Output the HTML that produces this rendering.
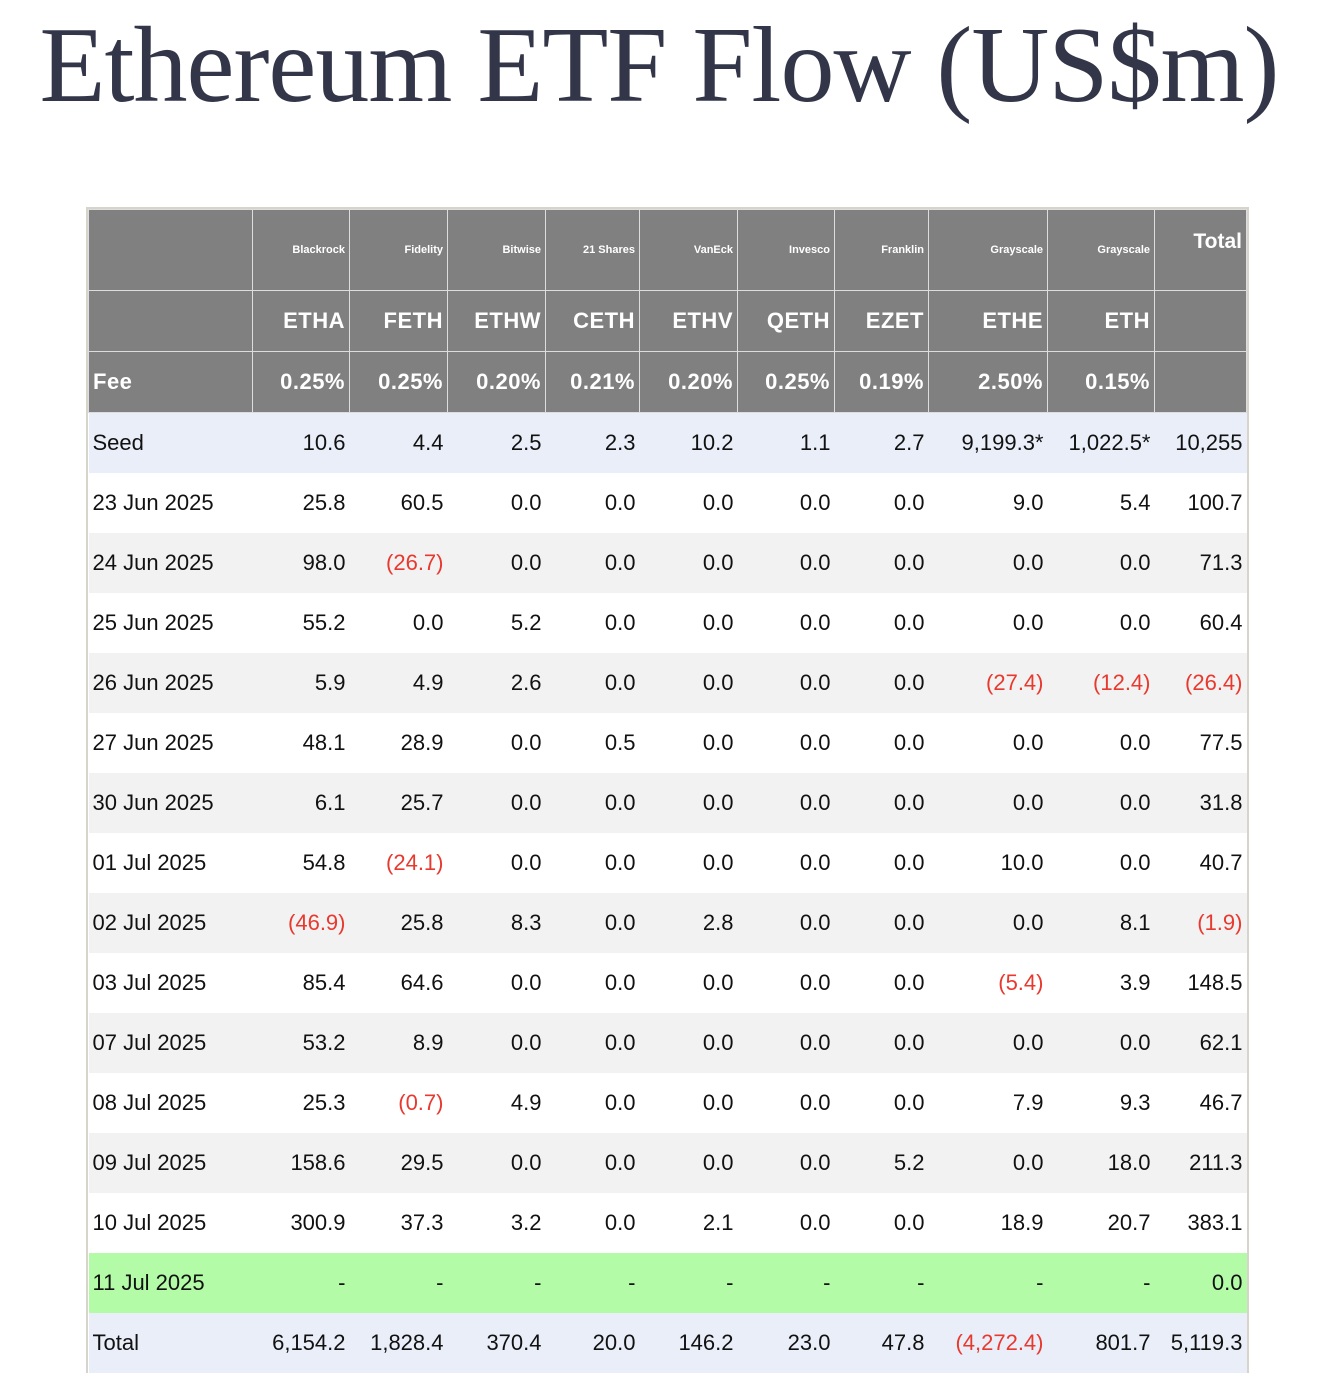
<!DOCTYPE html>
<html><head><meta charset="utf-8">
<style>
body{margin:0;width:1318px;height:1360px;overflow:hidden;background:#fff;font-family:"Liberation Sans",sans-serif;}
h1{position:absolute;left:0;top:6px;width:1318px;margin:0;text-align:center;font-family:"Liberation Serif",serif;font-weight:normal;font-size:108px;color:#333649;letter-spacing:-1px;line-height:120px;}
.wrap{position:absolute;left:86px;top:207px;border:2px solid #d7d4cc;border-bottom:none;}
table{border-collapse:collapse;table-layout:fixed;width:1158px;}
td{height:60px;padding:0 4px 0 4px;text-align:right;font-size:22px;color:#111;white-space:nowrap;overflow:hidden;}
td:first-child{text-align:left;}
tr.h td{background:#808080;color:#fff;font-weight:bold;border:1px solid #ddd;height:60px;}
tr.h1 td{font-size:11px;}
tr.h1 td.tot{font-size:21px;vertical-align:top;padding-top:20px;}
tr.h2 td,tr.h3 td{font-size:22px;letter-spacing:0.5px;}
tr.s td{background:#e9eef9;}
tr.g td{background:#f2f2f2;}
tr.n td{background:#b3fba6;}
.r{color:#e8392f !important;}
</style></head><body>
<h1>Ethereum ETF Flow (US$m)</h1>
<div class="wrap">
<table>
<colgroup><col style="width:164px"><col style="width:97px"><col style="width:98px"><col style="width:98px"><col style="width:94px"><col style="width:98px"><col style="width:97px"><col style="width:94px"><col style="width:119px"><col style="width:107px"><col style="width:92px"></colgroup>
<tbody id="tb"></tbody>
</table></div>
<script>
const issuers=["Blackrock","Fidelity","Bitwise","21 Shares","VanEck","Invesco","Franklin","Grayscale","Grayscale"];
const tickers=["ETHA","FETH","ETHW","CETH","ETHV","QETH","EZET","ETHE","ETH"];
const fees=["0.25%","0.25%","0.20%","0.21%","0.20%","0.25%","0.19%","2.50%","0.15%"];
const rows=[
["Seed","10.6","4.4","2.5","2.3","10.2","1.1","2.7","9,199.3*","1,022.5*","10,255"],
["23 Jun 2025","25.8","60.5","0.0","0.0","0.0","0.0","0.0","9.0","5.4","100.7"],
["24 Jun 2025","98.0","(26.7)","0.0","0.0","0.0","0.0","0.0","0.0","0.0","71.3"],
["25 Jun 2025","55.2","0.0","5.2","0.0","0.0","0.0","0.0","0.0","0.0","60.4"],
["26 Jun 2025","5.9","4.9","2.6","0.0","0.0","0.0","0.0","(27.4)","(12.4)","(26.4)"],
["27 Jun 2025","48.1","28.9","0.0","0.5","0.0","0.0","0.0","0.0","0.0","77.5"],
["30 Jun 2025","6.1","25.7","0.0","0.0","0.0","0.0","0.0","0.0","0.0","31.8"],
["01 Jul 2025","54.8","(24.1)","0.0","0.0","0.0","0.0","0.0","10.0","0.0","40.7"],
["02 Jul 2025","(46.9)","25.8","8.3","0.0","2.8","0.0","0.0","0.0","8.1","(1.9)"],
["03 Jul 2025","85.4","64.6","0.0","0.0","0.0","0.0","0.0","(5.4)","3.9","148.5"],
["07 Jul 2025","53.2","8.9","0.0","0.0","0.0","0.0","0.0","0.0","0.0","62.1"],
["08 Jul 2025","25.3","(0.7)","4.9","0.0","0.0","0.0","0.0","7.9","9.3","46.7"],
["09 Jul 2025","158.6","29.5","0.0","0.0","0.0","0.0","5.2","0.0","18.0","211.3"],
["10 Jul 2025","300.9","37.3","3.2","0.0","2.1","0.0","0.0","18.9","20.7","383.1"],
["11 Jul 2025","-","-","-","-","-","-","-","-","-","0.0"],
["Total","6,154.2","1,828.4","370.4","20.0","146.2","23.0","47.8","(4,272.4)","801.7","5,119.3"]];
const tb=document.getElementById('tb');
function hrow(cls,first,arr,last,name){
  const tr=document.createElement('tr');tr.className='h '+cls;
  
  
  const cells=[first].concat(arr,[last]);
  cells.forEach((t,i)=>{const td=document.createElement('td');td.textContent=t;
    if(i===cells.length-1&&cls==='h1')td.className='tot';
    
    
    tr.appendChild(td);});
  tb.appendChild(tr);
}
hrow('h1','',issuers,'Total','issuer-header-row');
hrow('h2','',tickers,'','ticker-header-row');
hrow('h3','Fee',fees,'','fee-header-row');
rows.forEach((r,ri)=>{
  const tr=document.createElement('tr');
  let c='';
  if(ri===0||ri===rows.length-1)c='s';else if(r[0].startsWith('11 Jul'))c='n';else if(ri%2===0)c='g';
  tr.className=c;
  
  
  r.forEach((t,i)=>{const td=document.createElement('td');td.textContent=t;
    if(t.startsWith('('))td.className='r';
    
    
    tr.appendChild(td);});
  tb.appendChild(tr);
});
</script>
</body></html>
